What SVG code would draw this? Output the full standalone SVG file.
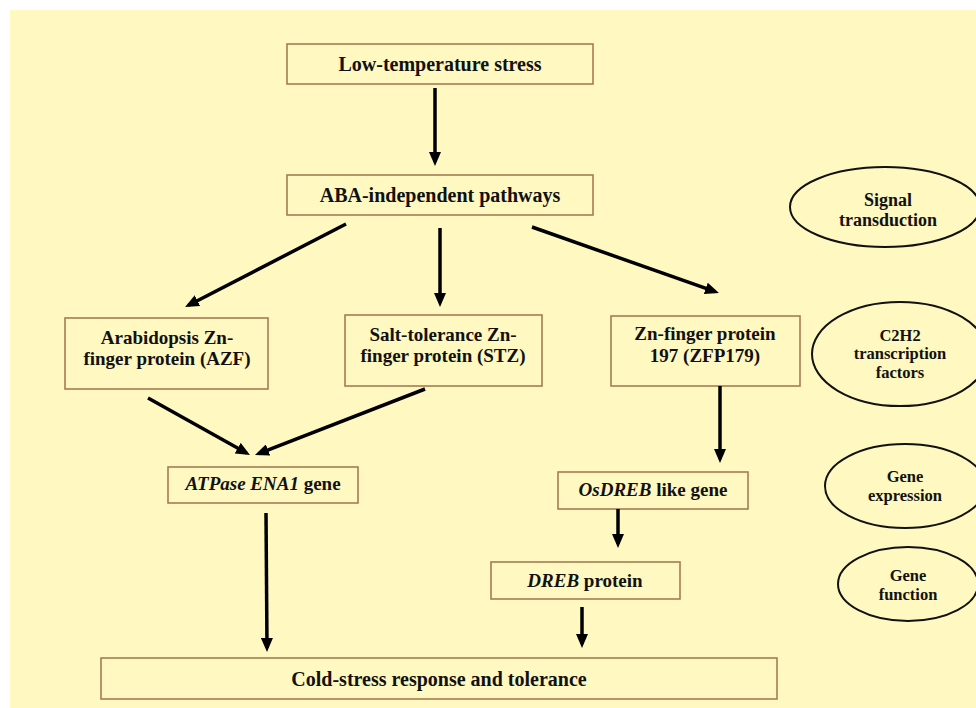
<svg xmlns="http://www.w3.org/2000/svg" width="976" height="708" viewBox="0 0 976 708">
<style>
.box{fill:none;stroke:#a67c52;stroke-width:1.6}
.ell{fill:none;stroke:#111;stroke-width:2}
.t{font-family:"Liberation Serif","Times New Roman",serif;font-weight:bold;font-size:19px;fill:#111;text-anchor:middle}
.tl{font-size:20px}
.te{font-size:16.5px}
.ts{font-size:18px}
.c line{stroke:#000;stroke-width:3.5}
</style>
<defs>
<marker id="ah" markerUnits="userSpaceOnUse" markerWidth="14" markerHeight="12" refX="10" refY="6" orient="auto">
<path d="M0,0 L14,6 L0,12 z" fill="#000"/>
</marker>
</defs>
<rect x="0" y="0" width="976" height="708" fill="#fff"/>
<rect x="10" y="10" width="966" height="698" fill="#fff8c1"/>

<g id="n-lowtemp"><rect class="box" x="287" y="44" width="306" height="40"/><text class="t tl" x="440" y="71">Low-temperature stress</text></g>
<g id="n-aba"><rect class="box" x="287" y="175" width="306" height="40"/><text class="t tl" x="440" y="202">ABA-independent pathways</text></g>
<g id="n-azf"><rect class="box" x="65" y="318" width="203" height="71"/><text class="t" x="167" y="344">Arabidopsis Zn-</text><text class="t" x="167" y="365">finger protein (AZF)</text></g>
<g id="n-stz"><rect class="box" x="345" y="315" width="197" height="71"/><text class="t" x="443" y="341">Salt-tolerance Zn-</text><text class="t" x="443" y="362">finger protein (STZ)</text></g>
<g id="n-zfp"><rect class="box" x="611" y="316" width="189" height="70"/><text class="t" x="705" y="340">Zn-finger protein</text><text class="t" x="705" y="362">197 (ZFP179)</text></g>
<g id="n-atpase"><rect class="box" x="168" y="467" width="190" height="36"/><text class="t" x="263" y="490"><tspan font-style="italic">ATPase ENA1</tspan> gene</text></g>
<g id="n-osdreb"><rect class="box" x="558" y="472" width="190" height="37"/><text class="t" x="653" y="496"><tspan font-style="italic">OsDREB</tspan> like gene</text></g>
<g id="n-dreb"><rect class="box" x="491" y="562" width="189" height="37"/><text class="t" x="585" y="587"><tspan font-style="italic">DREB</tspan> protein</text></g>
<g id="n-cold"><rect class="box" x="101" y="658" width="676" height="41"/><text class="t tl" x="439" y="686">Cold-stress response and tolerance</text></g>

<g id="n-signal"><ellipse class="ell" cx="885" cy="207" rx="95" ry="40"/><text class="t ts" x="888" y="206">Signal</text><text class="t ts" x="888" y="226">transduction</text></g>
<g id="n-c2h2"><ellipse class="ell" cx="900" cy="354" rx="88" ry="52"/><text class="t te" x="900" y="341">C2H2</text><text class="t te" x="900" y="359">transcription</text><text class="t te" x="900" y="378">factors</text></g>
<g id="n-geneexp"><ellipse class="ell" cx="905" cy="486" rx="80" ry="42"/><text class="t te" x="905" y="482">Gene</text><text class="t te" x="905" y="501">expression</text></g>
<g id="n-genefn"><ellipse class="ell" cx="908" cy="584" rx="70" ry="37"/><text class="t te" x="908" y="581">Gene</text><text class="t te" x="908" y="600">function</text></g>

<g id="connectors" class="c">
<line x1="435" y1="88" x2="435" y2="162" marker-end="url(#ah)"/>
<line x1="346" y1="224" x2="188.6" y2="305.2" marker-end="url(#ah)"/>
<line x1="440" y1="228" x2="440" y2="303" marker-end="url(#ah)"/>
<line x1="532" y1="227" x2="715.2" y2="291.7" marker-end="url(#ah)"/>
<line x1="148" y1="398" x2="246.5" y2="453" marker-end="url(#ah)"/>
<line x1="425" y1="389" x2="258.7" y2="453.6" marker-end="url(#ah)"/>
<line x1="720" y1="386" x2="720" y2="459" marker-end="url(#ah)"/>
<line x1="618" y1="509" x2="618" y2="544" marker-end="url(#ah)"/>
<line x1="266" y1="513" x2="267" y2="648" marker-end="url(#ah)"/>
<line x1="582" y1="607" x2="582" y2="644" marker-end="url(#ah)"/>
</g>
</svg>
